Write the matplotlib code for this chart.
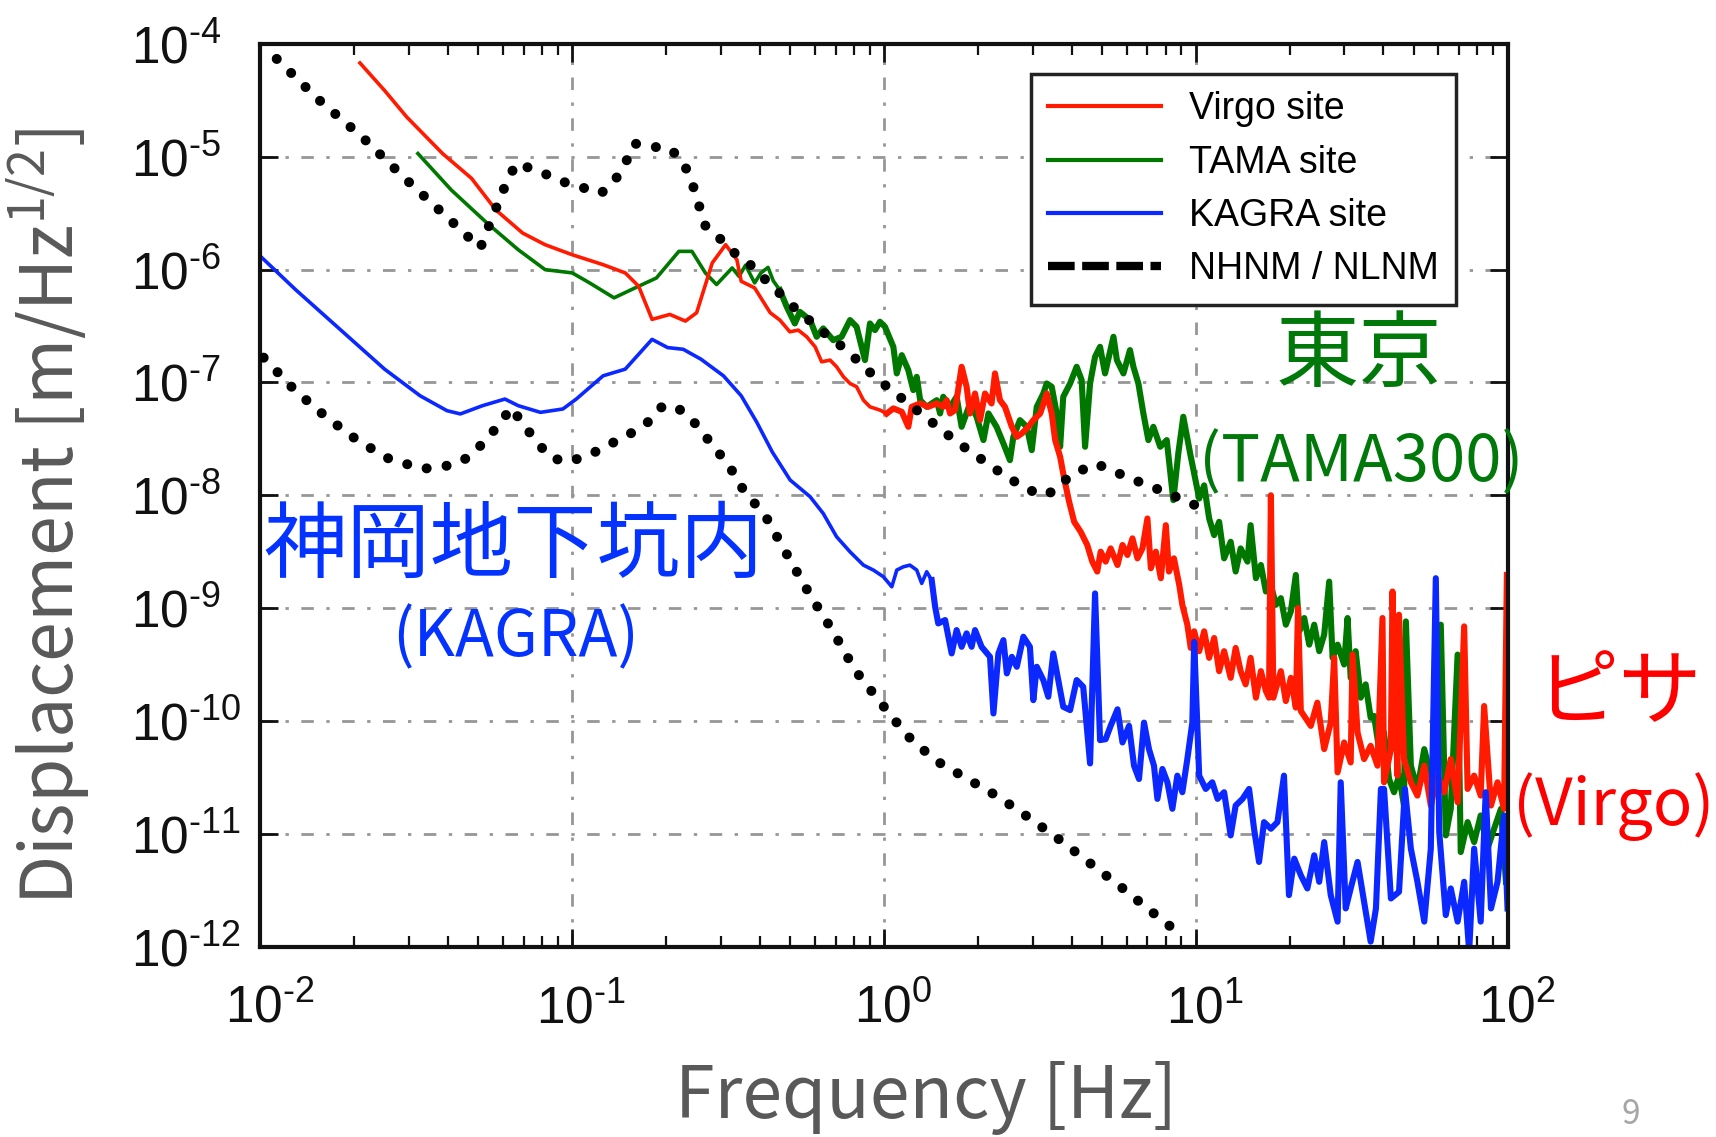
import matplotlib
matplotlib.use('Agg')
import matplotlib.pyplot as plt
import matplotlib.transforms as mtransforms
import numpy as np
from matplotlib.lines import Line2D
from matplotlib.ticker import FixedLocator, FuncFormatter, NullLocator, LogLocator

plt.rcParams['font.family'] = ['Liberation Sans', 'DejaVu Sans']
plt.rcParams['mathtext.default'] = 'regular'

# values are (log10 frequency [Hz], log10 displacement [m/Hz^1/2])
nhnm_pts = [(-1.948, -4.132), (-1.817, -4.485), (-1.674, -4.824), (-1.531, -5.206), (-1.392, -5.559),
            (-1.295, -5.809), (-1.266, -5.603), (-1.213, -5.241), (-1.180, -5.059), (-1.116, -5.118),
            (-1.016, -5.235), (-0.959, -5.279), (-0.908, -5.324), (-0.866, -5.221), (-0.830, -5.059),
            (-0.801, -4.882), (-0.737, -4.912), (-0.687, -4.926), (-0.644, -5.044), (-0.615, -5.235),
            (-0.594, -5.426), (-0.572, -5.618), (-0.522, -5.735), (-0.479, -5.853), (-0.429, -5.956),
            (-0.386, -6.074), (-0.336, -6.206), (-0.293, -6.324), (-0.243, -6.441), (-0.200, -6.544),
            (-0.150, -6.647), (-0.100, -6.765), (-0.057, -6.882), (-0.007, -7.0), (0.233, -7.526),
            (0.40, -7.85), (0.50, -8.0), (0.54, -7.97), (0.60, -7.82), (0.68, -7.72), (0.79, -7.85),
            (0.90, -7.97), (1.0, -8.09)]

nlnm_pts = [(-1.99, -6.78), (-1.888, -7.074), (-1.788, -7.309), (-1.688, -7.515), (-1.588, -7.676),
            (-1.481, -7.765), (-1.423, -7.75), (-1.373, -7.721), (-1.323, -7.647), (-1.280, -7.515),
            (-1.237, -7.382), (-1.195, -7.221), (-1.159, -7.368), (-1.116, -7.515), (-1.073, -7.662),
            (-1.016, -7.706), (-0.966, -7.662), (-0.916, -7.603), (-0.866, -7.529), (-0.815, -7.456),
            (-0.758, -7.353), (-0.715, -7.221), (-0.672, -7.206), (-0.622, -7.309), (-0.579, -7.456),
            (-0.536, -7.603), (-0.494, -7.75), (-0.462, -7.910), (-0.376, -8.205), (-0.307, -8.546),
            (-0.237, -8.885), (-0.163, -9.210), (-0.093, -9.550), (-0.013, -9.831), (0.073, -10.126),
            (0.164, -10.348), (0.265, -10.510), (0.367, -10.673), (0.468, -10.864), (0.565, -11.057),
            (0.666, -11.272), (0.762, -11.476), (0.859, -11.692), (0.958, -11.908)]

virgo_pts = [(-1.681, -4.168), (-1.602, -4.412), (-1.531, -4.647), (-1.416, -4.971), (-1.323, -5.191),
             (-1.245, -5.471), (-1.159, -5.676), (-1.087, -5.779), (-1.0, -5.868), (-0.901, -5.956),
             (-0.830, -6.029), (-0.787, -6.147), (-0.744, -6.441), (-0.687, -6.397), (-0.637, -6.456),
             (-0.601, -6.382), (-0.551, -5.941), (-0.508, -5.779), (-0.472, -5.912), (-0.458, -6.103),
             (-0.415, -6.162), (-0.365, -6.382), (-0.334, -6.447), (-0.302, -6.551), (-0.275, -6.536),
             (-0.248, -6.595), (-0.221, -6.684), (-0.200, -6.817), (-0.173, -6.802), (-0.152, -6.861),
             (-0.130, -6.950), (-0.109, -7.009), (-0.088, -7.038), (-0.066, -7.157), (-0.045, -7.216),
             (-0.013, -7.245), (0.009, -7.275), (0.030, -7.230), (0.057, -7.260), (0.078, -7.393),
             (0.089, -7.216), (0.116, -7.186), (0.142, -7.216), (0.169, -7.186), (0.190, -7.216),
             (0.201, -7.157), (0.212, -7.275), (0.228, -7.245), (0.249, -6.861), (0.265, -7.038),
             (0.276, -7.275), (0.292, -7.098), (0.308, -7.334), (0.324, -7.098), (0.345, -7.186),
             (0.356, -6.920), (0.372, -7.157), (0.388, -7.216), (0.410, -7.393), (0.426, -7.482),
             (0.442, -7.452), (0.463, -7.393), (0.479, -7.334), (0.501, -7.275), (0.522, -7.098),
             (0.538, -7.275), (0.549, -7.511), (0.565, -7.659), (0.578, -7.853), (0.594, -8.059),
             (0.610, -8.235), (0.631, -8.324), (0.652, -8.441), (0.668, -8.588), (0.684, -8.676),
             (0.695, -8.5), (0.711, -8.588), (0.727, -8.471), (0.749, -8.618), (0.765, -8.441),
             (0.781, -8.529), (0.797, -8.382), (0.813, -8.559), (0.829, -8.471), (0.845, -8.206),
             (0.856, -8.647), (0.872, -8.5), (0.888, -8.735), (0.904, -8.265), (0.914, -8.676),
             (0.930, -8.559), (0.947, -8.794), (0.957, -8.971), (0.973, -9.147), (0.984, -9.353),
             (0.995, -9.206), (1.011, -9.382), (1.027, -9.206), (1.043, -9.441), (1.059, -9.265),
             (1.075, -9.559), (1.091, -9.382), (1.112, -9.618), (1.128, -9.353), (1.144, -9.559),
             (1.160, -9.676), (1.176, -9.441), (1.193, -9.794), (1.209, -9.559), (1.225, -9.735),
             (1.235, -9.794), (1.241, -8.0), (1.249, -9.794), (1.273, -9.559), (1.289, -9.824),
             (1.305, -9.618), (1.321, -9.882), (1.328, -9.0), (1.337, -9.912), (1.369, -10.044),
             (1.390, -9.838), (1.412, -10.25), (1.433, -10.015), (1.444, -9.44), (1.455, -10.456),
             (1.476, -10.191), (1.497, -10.368), (1.503, -9.412), (1.519, -10.103), (1.540, -10.338),
             (1.561, -10.221), (1.583, -10.397), (1.599, -9.088), (1.604, -10.544), (1.626, -10.25),
             (1.631, -8.853), (1.647, -10.485), (1.652, -9.059), (1.668, -10.338), (1.690, -10.544),
             (1.711, -10.662), (1.733, -10.397), (1.754, -10.75), (1.775, -10.485), (1.797, -10.632),
             (1.818, -10.338), (1.840, -10.721), (1.861, -9.162), (1.872, -10.603), (1.893, -10.485),
             (1.914, -10.662), (1.925, -9.868), (1.947, -10.75), (1.968, -10.544), (1.989, -10.779),
             (1.998, -8.706)]

tama_pts = [(-1.495, -4.971), (-1.388, -5.294), (-1.273, -5.588), (-1.173, -5.824), (-1.087, -6.0),
            (-1.0, -6.029), (-0.944, -6.118), (-0.866, -6.25), (-0.787, -6.147), (-0.730, -6.074),
            (-0.658, -5.838), (-0.616, -5.838), (-0.573, -6.029), (-0.537, -6.132), (-0.487, -5.985),
            (-0.465, -6.06), (-0.444, -5.96), (-0.415, -6.118), (-0.395, -6.03), (-0.372, -5.98),
            (-0.355, -6.10), (-0.334, -6.181), (-0.312, -6.329), (-0.286, -6.477), (-0.270, -6.374),
            (-0.237, -6.447), (-0.216, -6.595), (-0.195, -6.521), (-0.163, -6.625), (-0.136, -6.595),
            (-0.109, -6.447), (-0.088, -6.506), (-0.061, -6.802), (-0.045, -6.477), (-0.029, -6.536),
            (-0.013, -6.462), (0.003, -6.506), (0.030, -6.684), (0.041, -6.920), (0.057, -6.758),
            (0.078, -6.891), (0.094, -7.068), (0.105, -6.950), (0.116, -7.157), (0.137, -7.216),
            (0.169, -7.157), (0.180, -7.275), (0.190, -7.127), (0.212, -7.216), (0.233, -7.127),
            (0.249, -7.393), (0.276, -7.186), (0.297, -7.304), (0.319, -7.511), (0.335, -7.275),
            (0.361, -7.393), (0.383, -7.541), (0.404, -7.689), (0.415, -7.482), (0.436, -7.334),
            (0.458, -7.393), (0.474, -7.600), (0.490, -7.216), (0.511, -7.098), (0.522, -7.009),
            (0.538, -7.038), (0.554, -7.275), (0.565, -7.570), (0.575, -7.127), (0.597, -7.009),
            (0.618, -6.861), (0.634, -6.979), (0.645, -7.570), (0.661, -7.009), (0.677, -6.772),
            (0.693, -6.684), (0.709, -6.920), (0.736, -6.595), (0.747, -6.802), (0.768, -6.920),
            (0.789, -6.713), (0.800, -6.861), (0.816, -7.009), (0.832, -7.275), (0.848, -7.511),
            (0.864, -7.393), (0.886, -7.570), (0.907, -7.511), (0.928, -8.043), (0.944, -7.629),
            (0.960, -7.304), (0.982, -7.629), (1.011, -8.029), (1.027, -7.912), (1.043, -8.206),
            (1.059, -8.353), (1.075, -8.235), (1.091, -8.559), (1.112, -8.412), (1.128, -8.676),
            (1.144, -8.471), (1.166, -8.588), (1.176, -8.265), (1.193, -8.735), (1.209, -8.618),
            (1.225, -8.853), (1.241, -8.794), (1.257, -8.971), (1.273, -8.912), (1.289, -9.147),
            (1.305, -9.029), (1.321, -8.706), (1.332, -9.206), (1.348, -9.088), (1.364, -9.324),
            (1.380, -9.147), (1.396, -9.382), (1.412, -9.235), (1.428, -8.765), (1.439, -9.441),
            (1.455, -9.324), (1.476, -9.5), (1.487, -9.088), (1.497, -9.618), (1.513, -9.382),
            (1.529, -9.794), (1.545, -9.676), (1.561, -9.971), (1.572, -9.956), (1.588, -10.25),
            (1.604, -10.103), (1.620, -10.515), (1.636, -10.632), (1.652, -10.485), (1.668, -10.75),
            (1.674, -9.118), (1.690, -10.397), (1.711, -10.603), (1.733, -10.25), (1.754, -10.485),
            (1.775, -10.338), (1.786, -9.147), (1.802, -11.015), (1.818, -10.779), (1.840, -9.412),
            (1.850, -11.162), (1.872, -10.897), (1.893, -11.074), (1.914, -10.838), (1.936, -11.132),
            (1.957, -10.956), (1.979, -10.779), (1.995, -11.426)]

kagra_pts = [(-2.0, -5.882), (-1.888, -6.176), (-1.745, -6.529), (-1.602, -6.882), (-1.488, -7.118),
             (-1.402, -7.25), (-1.359, -7.279), (-1.288, -7.206), (-1.216, -7.147), (-1.173, -7.206),
             (-1.102, -7.265), (-1.030, -7.235), (-0.987, -7.147), (-0.901, -6.941), (-0.830, -6.882),
             (-0.787, -6.75), (-0.744, -6.618), (-0.694, -6.691), (-0.644, -6.706), (-0.587, -6.794),
             (-0.515, -6.941), (-0.458, -7.118), (-0.408, -7.353), (-0.358, -7.618), (-0.301, -7.865),
             (-0.237, -8.013), (-0.195, -8.161), (-0.152, -8.368), (-0.109, -8.501), (-0.066, -8.619),
             (-0.034, -8.663), (-0.002, -8.722), (0.025, -8.811), (0.041, -8.663), (0.062, -8.634),
             (0.083, -8.619), (0.105, -8.663), (0.121, -8.781), (0.137, -8.678), (0.153, -8.752),
             (0.164, -8.988), (0.174, -9.136), (0.196, -9.106), (0.217, -9.402), (0.233, -9.195),
             (0.249, -9.343), (0.265, -9.224), (0.281, -9.343), (0.292, -9.195), (0.313, -9.343),
             (0.340, -9.432), (0.351, -9.934), (0.367, -9.402), (0.383, -9.284), (0.394, -9.579),
             (0.410, -9.432), (0.426, -9.520), (0.447, -9.254), (0.468, -9.343), (0.479, -9.816),
             (0.490, -9.520), (0.511, -9.638), (0.527, -9.786), (0.543, -9.402), (0.559, -9.638),
             (0.575, -9.875), (0.597, -9.904), (0.618, -9.638), (0.639, -9.698), (0.661, -10.377),
             (0.677, -8.870), (0.693, -10.170), (0.711, -10.162), (0.727, -10.044), (0.749, -9.897),
             (0.765, -10.191), (0.786, -10.044), (0.802, -10.397), (0.818, -10.515), (0.834, -10.015),
             (0.850, -10.25), (0.866, -10.397), (0.877, -10.691), (0.893, -10.426), (0.909, -10.544),
             (0.925, -10.779), (0.941, -10.485), (0.957, -10.632), (0.973, -10.338), (0.989, -10.015),
             (0.995, -9.3), (1.011, -10.485), (1.032, -10.603), (1.053, -10.544), (1.070, -10.691),
             (1.091, -10.632), (1.112, -11.015), (1.128, -10.75), (1.150, -10.691), (1.171, -10.603),
             (1.187, -10.956), (1.203, -11.25), (1.219, -10.897), (1.241, -10.956), (1.262, -10.897),
             (1.283, -10.485), (1.299, -11.544), (1.316, -11.221), (1.337, -11.368), (1.358, -11.485),
             (1.380, -11.191), (1.396, -11.426), (1.412, -11.074), (1.433, -11.544), (1.455, -11.779),
             (1.465, -10.544), (1.481, -11.662), (1.497, -11.485), (1.519, -11.25), (1.540, -11.603),
             (1.561, -11.956), (1.578, -11.662), (1.594, -10.603), (1.604, -10.603), (1.626, -11.574),
             (1.652, -11.515), (1.671, -10.603), (1.690, -11.132), (1.711, -11.426), (1.733, -11.779),
             (1.754, -11.132), (1.770, -8.735), (1.781, -10.985), (1.802, -11.721), (1.818, -11.485),
             (1.840, -11.779), (1.861, -11.426), (1.877, -12.044), (1.893, -11.132), (1.914, -11.779),
             (1.930, -10.632), (1.947, -11.662), (1.968, -11.426), (1.989, -10.838), (2.0, -11.662)]

legend_labels = ['Virgo site', 'TAMA site', 'KAGRA site', 'NHNM / NLNM']
x_ticks = [1e-2, 1e-1, 1e0, 1e1, 1e2]
y_ticks = [1e-12, 1e-11, 1e-10, 1e-9, 1e-8, 1e-7, 1e-6, 1e-5, 1e-4]

RED = '#ff1a00'
GREEN = '#007800'
BLUE = '#0a28ff'
TXT_BLUE = '#0433ff'
TXT_GREEN = '#00780a'
LABEL_GRAY = '#595959'


def to_xy(pts):
    a = np.array(pts)
    return 10 ** a[:, 0], 10 ** a[:, 1]


def plot_trace(ax, pts, split, color, z):
    # smooth low-frequency part thin, noisy part drawn heavier like the original
    f, d = to_xy(pts)
    k = int(np.searchsorted(np.log10(f), split))
    ax.plot(f[:k + 1], d[:k + 1], color=color, lw=2.6, zorder=z, solid_joinstyle='round')
    ax.plot(f[k:], d[k:], color=color, lw=4.4, zorder=z, solid_joinstyle='round')


fig = plt.figure(figsize=(17.16, 11.37), dpi=100)
ax = fig.add_axes([0.1518, 0.1675, 0.7267, 0.7938])
ax.set_xscale('log')
ax.set_yscale('log')

plot_trace(ax, tama_pts, -0.35, GREEN, 2)
plot_trace(ax, virgo_pts, 0.0, RED, 2.1)
plot_trace(ax, kagra_pts, 0.15, BLUE, 2.2)
dots = dict(color='k', lw=7.2, ls=(0, (0.01, 2.0)), dash_capstyle='round', zorder=4)
ax.plot(*to_xy(nhnm_pts), **dots)
ax.plot(*to_xy(nlnm_pts), **dots)

ax.set_xlim(1e-2, 1e2)
ax.set_ylim(1e-12, 1e-4)


def sci_label(v, pos):
    e = int(round(np.log10(v)))
    s = str(abs(e)) if e >= 0 else '\u2010' + str(abs(e))
    return r'$\mathdefault{10^{%s}}$' % s


ax.xaxis.set_major_locator(FixedLocator(x_ticks))
ax.xaxis.set_minor_locator(LogLocator(base=10, subs=np.arange(2, 10)))
ax.yaxis.set_major_locator(FixedLocator(y_ticks))
ax.yaxis.set_minor_locator(NullLocator())
ax.xaxis.set_major_formatter(FuncFormatter(sci_label))
ax.yaxis.set_major_formatter(FuncFormatter(sci_label))

ax.grid(True, which='major', color='#969696', lw=2.0, ls=(0, (4.5, 4.5, 1.2, 4.5)))
ax.tick_params(which='both', direction='in', top=True, right=True, color='#111111', labelcolor='#111111')
ax.tick_params(which='major', length=13, width=2.0, labelsize=37)
ax.tick_params(which='minor', length=8, width=1.6)
ax.tick_params(axis='x', pad=27)
ax.tick_params(axis='y', pad=93)
for lab in ax.get_yticklabels():
    lab.set_horizontalalignment('left')
shift = mtransforms.ScaledTranslation(0.09, 0, fig.dpi_scale_trans)
for lab in ax.get_xticklabels():
    lab.set_transform(lab.get_transform() + shift)
for sp in ax.spines.values():
    sp.set_linewidth(3)
    sp.set_color('#111111')

handles = [Line2D([], [], color=RED, lw=3),
           Line2D([], [], color=GREEN, lw=3),
           Line2D([], [], color=BLUE, lw=3),
           Line2D([], [], color='k', lw=6, ls=(0, (3.2, 0.9)))]
leg = ax.legend(handles, legend_labels, loc='upper right', bbox_to_anchor=(0.959, 0.967),
                fontsize=27, fancybox=False, edgecolor='#222222', framealpha=1,
                handlelength=3.0, handletextpad=0.75, labelspacing=0.46, borderpad=0.47,
                borderaxespad=0)
leg.get_frame().set_linewidth(2.5)
leg.set_zorder(5)

cjk = ['Noto Sans CJK JP', 'DejaVu Sans']
ax.set_xlabel('Frequency [Hz]', family=cjk, fontsize=51.5, color=LABEL_GRAY, va='center')
ax.xaxis.set_label_coords(0.534, -0.168)
ax.set_ylabel(r'Displacement [m/Hz$^{\mathdefault{1/2}}$]', family=cjk, fontsize=51.5,
              color=LABEL_GRAY, va='center')
ax.yaxis.set_label_coords(-0.1697, 0.476)

fig.text(0.2995, 0.5189, '神岡地下坑内', family=cjk, fontsize=60, color=TXT_BLUE, ha='center', va='center')
fig.text(0.3007, 0.4389, '(KAGRA)', family=cjk, fontsize=46, color=TXT_BLUE, ha='center', va='center')
fig.text(0.7920, 0.6869, '東京', family=cjk, fontsize=60, color=TXT_GREEN, ha='center', va='center')
fig.text(0.7931, 0.5928, '(TAMA300)', family=cjk, fontsize=47, color=TXT_GREEN, ha='center', va='center')
fig.text(0.9435, 0.3896, 'ピサ', family=cjk, fontsize=60, color='#ff0000', ha='center', va='center')
fig.text(0.9405, 0.2902, '(Virgo)', family=cjk, fontsize=47, color='#ff0000', ha='center', va='center')
fig.text(0.9505, 0.004, '9', family=cjk, fontsize=24, color='#a6a6a6', ha='center', va='bottom')

fig.savefig('out.png', dpi=100)
